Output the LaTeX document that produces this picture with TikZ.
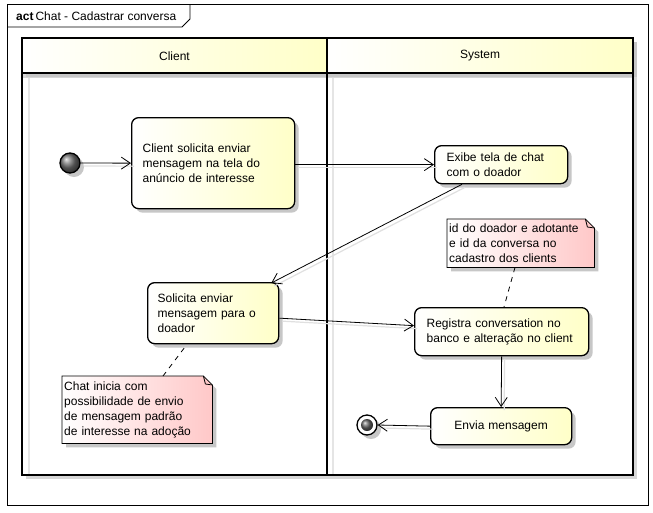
\documentclass[tikz,border=0pt]{standalone}
\usepackage{fontspec}
\setmainfont{Liberation Sans}
\usetikzlibrary{shadows,arrows.meta,calc}
\definecolor{actyel}{RGB}{255,255,200}
\definecolor{notepink}{RGB}{255,200,200}
\definecolor{lanegray}{RGB}{215,215,215}
\pgfdeclarelayer{front}
\pgfsetlayers{main,front}
\begin{document}
\begin{tikzpicture}[x=1pt,y=-1pt,
  every node/.style={font=\fontsize{12}{15}\selectfont},
  shade/.style={drop shadow={shadow xshift=4pt,shadow yshift=-4pt,fill=black!22,opacity=1}},
  actbox/.style={draw,line width=1.3pt,rounded corners=7pt,left color=white,right color=actyel,
    shade,anchor=north west,align=left,inner ysep=0pt},
  notetext/.style={anchor=north west,align=left,inner xsep=2pt,inner ysep=0pt},
  notefill/.style={draw,line width=0.8pt,left color=white,right color=notepink,shade},
  flow/.style={draw,line width=0.8pt,-{Straight Barb[length=9pt,width=12pt]}},
  fshadow/.style={draw=black!12,line width=1.2pt,transform canvas={xshift=3pt,yshift=-3pt}},
  anchorline/.style={draw,line width=0.8pt,dash pattern=on 5pt off 5pt},
  lane/.style={draw,line width=1.8pt},
]
\useasboundingbox (0,0) rectangle (653,512);

% frame and title tab
\draw[line width=0.8pt] (7,4) rectangle (648,505);
\draw[line width=0.8pt] (7,27) -- (182,27) -- (190,19) -- (190,4);
\node[anchor=west,inner sep=0pt] (title) at (16,16) {\textbf{act}\,Chat - Cadastrar conversa};

% lane shadows
\fill[lanegray] (26,42) rectangle (637,479);
\fill[white] (22,38) rectangle (633,475);
\draw[black!10,line width=1.5pt] (29,77) -- (29,475) (333,77) -- (333,475);
\fill[lanegray] (22,73) rectangle (633,78);

% lane headers
\shade[left color=white,right color=actyel] (22,38) rectangle (327,73);
\shade[left color=white,right color=actyel] (327,38) rectangle (633,73);
\node (hclient) at (174.5,56) {Client};
\node (hsystem) at (480,56) {System};
\draw[lane] (22,38) rectangle (327,475);
\draw[lane] (327,38) rectangle (633,475);
\draw[lane] (22,73) -- (633,73);

% actions
\node[actbox,inner xsep=11pt,text width=141pt,minimum height=91pt] (a1) at (131,117)
  {Client solicita enviar\\mensagem na tela do\\anúncio de interesse};
\node[actbox,inner xsep=12pt,text width=109pt,minimum height=38pt] (a2) at (434,145)
  {Exibe tela de chat\\com o doador};
\node[actbox,inner xsep=10pt,text width=111pt,minimum height=61pt] (a3) at (147,282)
  {Solicita enviar\\mensagem para o\\doador};
\node[actbox,inner xsep=12pt,text width=150pt,minimum height=48pt] (a4) at (414,307)
  {Registra conversation no\\banco e alteração no client};
\node[actbox,align=center,inner xsep=12pt,text width=117pt,minimum height=37pt] (a5) at (430,407)
  {Envia mensagem};

% initial and final nodes
\node[circle,draw,line width=1.3pt,minimum size=20pt,inner sep=0pt,shading=ball,ball color=black!55,
  shade] (init) at (70,163) {};
\node[circle,draw,line width=1.3pt,fill=white,minimum size=20pt,inner sep=0pt,shade] (fin) at (367,425) {};
\node[circle,minimum size=12pt,inner sep=0pt,shading=ball,ball color=black!60] (finc) at (fin) {};

% note texts (front layer, above their outlines)
\begin{pgfonlayer}{front}
\node[notetext,text width=143pt,minimum height=48pt] (n1) at (447,219)
  {id do doador e adotante\\e id da conversa no\\cadastro dos clients};
\node[notetext,text width=146pt,minimum height=67pt] (n2) at (62,376)
  {Chat inicia com\\possibilidade de envio\\de mensagem padrão\\de interesse na adoção};
\end{pgfonlayer}

% note outlines with folded corner
\foreach \n in {n1,n2} {
  \path[notefill] (\n.north west) -- ($(\n.north east)+(-9,0)$) -- ($(\n.north east)+(0,9)$)
    -- (\n.south east) -- (\n.south west) -- cycle;
  \draw[line width=0.8pt] ($(\n.north east)+(-9,0)$) -- ($(\n.north east)+(-7,8)$) -- ($(\n.north east)+(0,9)$);
}

% note anchors
\path[anchorline] ($(n1.south west)+(68,0)$) -- ($(a4.north west)+(90,0)$);
\path[anchorline] ($(n2.north west)+(101,0)$) -- ($(a3.south west)+(40,0)$);

% connector shadows
\path[fshadow] (init.east) -- (a1.west);
\path[fshadow] (a1.east |- a2.west) -- (a2.west);
\path[fshadow] ($(a2.south west)+(28,0)$) -- ($(a3.north east)+(-8,1)$);
\path[fshadow] ($(a3.east)+(0,5)$) -- ($(a4.west)+(0,-6)$);
\path[fshadow] (a4.south) -- (a5.north);
\path[fshadow] (a5.west) -- (fin.east);

% control flows
\path[flow] (init.east) -- (a1.west);
\path[flow] (a1.east |- a2.west) -- (a2.west);
\path[flow] ($(a2.south west)+(28,0)$) -- ($(a3.north east)+(-8,1)$);
\path[flow] ($(a3.east)+(0,5)$) -- ($(a4.west)+(0,-6)$);
\path[flow] (a4.south) -- (a5.north);
\path[flow] (a5.west) -- (fin.east);
\end{tikzpicture}
\end{document}
